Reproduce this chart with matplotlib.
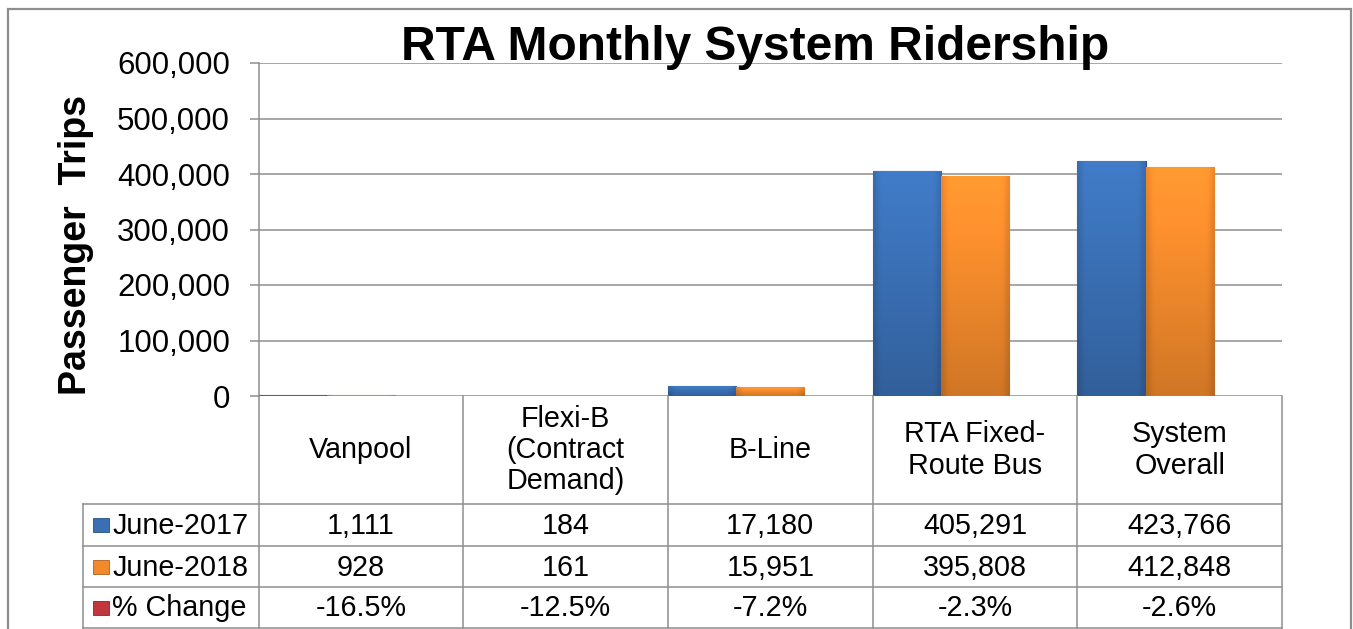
import numpy as np
import matplotlib
matplotlib.use("Agg")
import matplotlib.pyplot as plt
from matplotlib.patches import Rectangle
from matplotlib.colors import to_rgb
from matplotlib.ticker import FuncFormatter

# --- data ---
categories = ["Vanpool", "Flexi-B\n(Contract\nDemand)", "B-Line",
              "RTA Fixed-\nRoute Bus", "System\nOverall"]
series_names = ["June-2017", "June-2018", "% Change"]
june_2017 = [1111, 184, 17180, 405291, 423766]
june_2018 = [928, 161, 15951, 395808, 412848]
pct_change = [-16.5, -12.5, -7.2, -2.3, -2.6]
yticks = [0, 100000, 200000, 300000, 400000, 500000, 600000]

BLUE = "#3A6FB4"
ORANGE = "#F28A2C"
RED = "#C0383B"
GRID = "#8E8E8E"

plt.rcParams["font.family"] = ["Liberation Sans", "DejaVu Sans"]

W, H = 1353, 629
fig = plt.figure(figsize=(W / 100, H / 100), dpi=100)


def px_box(x0, y0, x1, y1):
    # pixel box measured from the top-left corner -> figure fraction
    return [x0 / W, 1 - y1 / H, (x1 - x0) / W, (y1 - y0) / H]


def shade_bar(ax, rect, color):
    # fake the Excel bevel: lighter top, darker bottom and sides
    base = np.array(to_rgb(color))
    ny, nx = 60, 24
    vy = np.linspace(1.12, 0.86, ny)[:, None]
    xx = np.linspace(-1, 1, nx)[None, :]
    vx = 1 - 0.12 * np.clip((np.abs(xx) - 0.8) / 0.2, 0, 1)
    img = np.clip(base[None, None, :] * (vy * vx)[:, :, None], 0, 1)
    x0, y0 = rect.get_x(), rect.get_y()
    x1, y1 = x0 + rect.get_width(), y0 + rect.get_height()
    im = ax.imshow(img, extent=[x0, x1, y0, y1], origin="upper",
                   aspect="auto", zorder=rect.get_zorder(), interpolation="bilinear")
    im.set_clip_path(rect)


ax = fig.add_axes(px_box(258.5, 63, 1282, 396))
x = np.arange(len(categories))
w = 1 / 3
series = [(june_2017, BLUE), (june_2018, ORANGE),
          ([p / 100 for p in pct_change], RED)]
for k, (vals, col) in enumerate(series):
    bars = ax.bar(x + (k - 1) * w, vals, width=w, color=col,
                  edgecolor=matplotlib.colors.to_hex(np.array(to_rgb(col)) * 0.7),
                  linewidth=0.8 if k < 2 else 0, zorder=3)
    if k < 2:
        for r in bars:
            shade_bar(ax, r, col)

ax.set_xlim(-0.5, len(categories) - 0.5)
ax.set_ylim(yticks[0], yticks[-1])
ax.set_yticks(yticks)
ax.yaxis.set_major_formatter(FuncFormatter(lambda v, _: f"{int(v):,}"))
ax.grid(axis="y", color=GRID, linewidth=1.1, zorder=0)
ax.set_axisbelow(True)
for s in ["top", "right", "bottom"]:
    ax.spines[s].set_visible(False)
ax.spines["left"].set_color(GRID)
ax.spines["left"].set_linewidth(1.1)
ax.tick_params(axis="y", length=6.5, width=1.1, color=GRID, pad=14,
               labelsize=22.5, labelcolor="black")
ax.tick_params(axis="x", bottom=False, labelbottom=False)

# --- data table under the plot ---
unit_px = (1282 - 258.5) / len(categories)
leg_w = 175.5 / unit_px
row_px = [108, 42, 41, 41]
bounds = np.concatenate([[0], np.cumsum(row_px)])
tab = fig.add_axes(px_box(83, 396, 1282, 396 + bounds[-1]))
tab.set_xlim(-0.5 - leg_w, len(categories) - 0.5)
tab.set_ylim(bounds[-1], 0)
tab.axis("off")

lkw = dict(color=GRID, linewidth=1.1, clip_on=False)
for b in np.arange(len(categories) + 1) - 0.5:
    tab.plot([b, b], [0, bounds[-1]], **lkw)
tab.plot([-0.5 - leg_w] * 2, [bounds[1], bounds[-1]], **lkw)
for yb in bounds[1:]:
    tab.plot([-0.5 - leg_w, len(categories) - 0.5], [yb, yb], **lkw)

FS = 20.7
for i, c in enumerate(categories):
    tab.text(i, bounds[1] / 2, c, ha="center", va="center", fontsize=FS,
             linespacing=1.15)

rows = [[f"{v:,}" for v in june_2017],
        [f"{v:,}" for v in june_2018],
        [f"{p:.1f}%" for p in pct_change]]
for r, (name, (_, col), vals) in enumerate(zip(series_names, series, rows)):
    yc = (bounds[r + 1] + bounds[r + 2]) / 2
    sx = -0.5 - leg_w + 9.5 / unit_px
    tab.add_patch(Rectangle((sx, yc - 7), 16 / unit_px, 14, facecolor=col,
                            edgecolor=np.array(to_rgb(col)) * 0.7,
                            linewidth=0.6, clip_on=False))
    tab.text(sx + 20 / unit_px, yc + 1, name, ha="left", va="center", fontsize=FS)
    for i, v in enumerate(vals):
        tab.text(i, yc + 1, v, ha="center", va="center", fontsize=FS)

# --- titles ---
fig.text(755 / W, 1 - 60 / H, "RTA Monthly System Ridership", ha="center",
         va="baseline", fontsize=34.5, fontweight="bold")
fig.text(76 / W, 1 - 245 / H, "Passenger  Trips", ha="center", va="center",
         rotation=90, fontsize=27, fontweight="bold")

# outer chart frame (bottom edge runs off the picture)
fig.patches.append(Rectangle((8 / W, -0.05), (1351 - 8) / W, 1.05 - 9 / H,
                             transform=fig.transFigure, fill=False,
                             edgecolor=GRID, linewidth=1.6))

fig.savefig("out.png", dpi=100)
